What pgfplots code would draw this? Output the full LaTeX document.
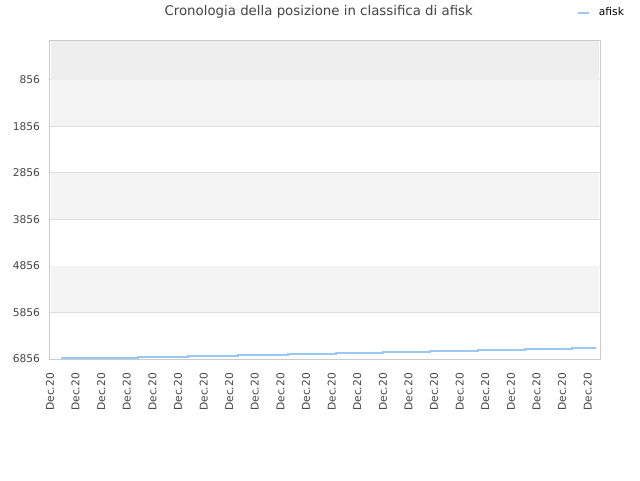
\documentclass[border=0pt]{standalone}
\usepackage{pgfplots}
\pgfplotsset{compat=1.18}
\usepackage{fontspec}
\setmainfont{DejaVu Sans}
\definecolor{band}{HTML}{F4F4F4}
\definecolor{topband}{HTML}{EEEEEE}
\definecolor{gridc}{HTML}{DDDDDD}
\definecolor{axc}{HTML}{CCCCCC}
\definecolor{linec}{HTML}{99C8F2}
\definecolor{txt}{HTML}{444444}
\begin{document}
\begin{tikzpicture}
\path[use as bounding box] (0,0) rectangle (480pt,360pt);
\begin{axis}[
  scale only axis,
  width=412.5pt, height=239.25pt,
  at={(37.5pt,90.75pt)}, anchor=south west,
  xmin=0, xmax=21.48,
  ymin=0, ymax=6856,
  y dir=reverse,
  ytick={856,1856,2856,3856,4856,5856,6856},
  xtick={0,1,...,21},
  xticklabels={Dec.20,Dec.20,Dec.20,Dec.20,Dec.20,Dec.20,Dec.20,Dec.20,Dec.20,Dec.20,Dec.20,Dec.20,Dec.20,Dec.20,Dec.20,Dec.20,Dec.20,Dec.20,Dec.20,Dec.20,Dec.20,Dec.20},
  xticklabel style={rotate=90, anchor=east, font=\fontsize{8}{9}\selectfont, text=txt},
  yticklabel style={font=\fontsize{8}{9}\selectfont, text=txt},
  xticklabel shift=7pt,
  yticklabel shift=4pt,
  /pgf/number format/assume math mode=true,
  /pgf/number format/set thousands separator={},
  major tick length=0pt,
  ymajorgrids, major grid style={gridc, line width=0.6pt},
  axis line style={axc, line width=0.75pt},
]
\fill[topband] (axis cs:0.025,12) rectangle (axis cs:21.455,856);
\fill[band] (axis cs:0.025,856) rectangle (axis cs:21.455,1856);
\fill[band] (axis cs:0.025,2856) rectangle (axis cs:21.455,3856);
\fill[band] (axis cs:0.025,4856) rectangle (axis cs:21.455,5856);
\addplot[const plot, linec, line width=1.5pt] coordinates {
(0.43,6842) (1.48,6826) (3.44,6808) (5.39,6790) (7.34,6770) (9.30,6745) (11.17,6722) (13.0,6700) (14.84,6680) (16.72,6660) (18.55,6638) (20.39,6618) (21.33,6618)
};
\end{axis}
\node[text=txt, font=\fontsize{10}{12}\selectfont] at (239pt,351pt) {Cronologia della posizione in classifica di afisk};
\draw[linec, line width=1.5pt] (433.5pt,350.5pt) -- (441.5pt,350.5pt);
\node[anchor=west, font=\fontsize{8}{9}\selectfont, inner sep=0pt] at (449pt,351pt) {afisk};
\end{tikzpicture}
\end{document}
